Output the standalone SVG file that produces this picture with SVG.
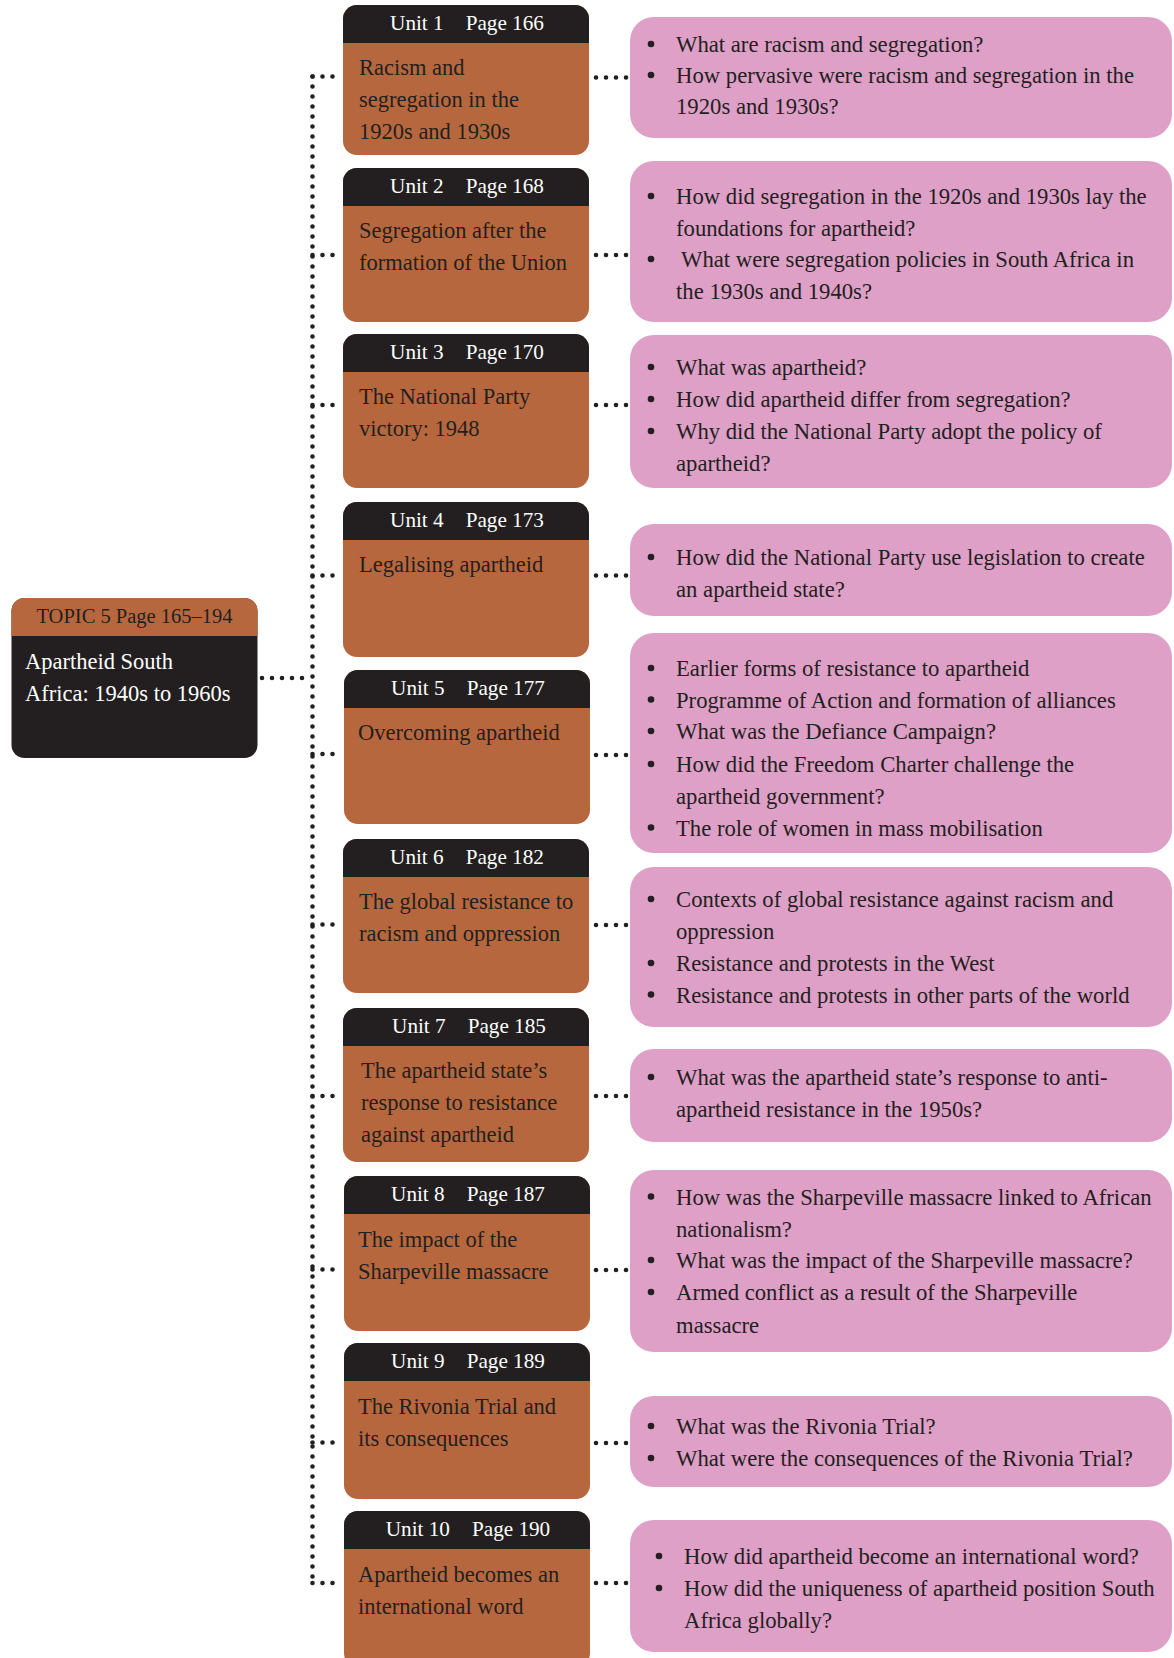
<svg xmlns="http://www.w3.org/2000/svg" width="1174" height="1658" viewBox="0 0 1174 1658">
<style>
text{font-family:"Liberation Serif","Times New Roman",serif}
.hdr{font-size:21.2px;fill:#ffffff;text-anchor:middle}
.thdr{font-size:20.5px;fill:#231f20;text-anchor:middle}
.tb{font-size:22.5px;fill:#ffffff}
.ub{font-size:22.5px;fill:#231f20}
.pt{font-size:22.7px;fill:#231f20}
.or{fill:#b7673d}
.dk{fill:#231f20}
.pk{fill:#dea0c7}
.dot{stroke:#231f20;stroke-width:4.6;stroke-linecap:round;stroke-dasharray:0 10;fill:none}
.bl{fill:#231f20}
</style>

<g id="connectors">
<path class="dot" d="M312.5,76.5 V1583"/>
<path class="dot" d="M262,678 H312"/>
<path class="dot" d="M312.5,76.5 H342"/><path class="dot" d="M596,77.5 H627"/>
<path class="dot" d="M312.5,255 H342"/><path class="dot" d="M596,255 H627"/>
<path class="dot" d="M312.5,405 H342"/><path class="dot" d="M596,405 H627"/>
<path class="dot" d="M312.5,575.5 H342"/><path class="dot" d="M596,575.5 H627"/>
<path class="dot" d="M312.5,754 H342"/><path class="dot" d="M596,755 H627"/>
<path class="dot" d="M312.5,924.5 H342"/><path class="dot" d="M596,925 H627"/>
<path class="dot" d="M312.5,1096 H342"/><path class="dot" d="M596,1096 H627"/>
<path class="dot" d="M312.5,1269.5 H342"/><path class="dot" d="M596,1270 H627"/>
<path class="dot" d="M312.5,1442.5 H342"/><path class="dot" d="M596,1443 H627"/>
<path class="dot" d="M312.5,1583 H342"/><path class="dot" d="M596,1583 H627"/>
</g>

<g id="topic">
<rect class="dk" x="11.5" y="598" width="246" height="160" rx="13"/>
<path class="or" d="M11.5,636 V611 a13,13 0 0 1 13,-13 H244.5 a13,13 0 0 1 13,13 V636 Z"/>
<text class="thdr" x="134.5" y="623">TOPIC 5 Page 165–194</text>
<text class="tb" x="25" y="669">Apartheid South</text>
<text class="tb" x="25" y="701">Africa: 1940s to 1960s</text>
</g>

<g id="unit1">
<rect class="or" x="343" y="5" width="246" height="150" rx="14"/>
<path class="dk" d="M343,43 V19 a14,14 0 0 1 14,-14 H575 a14,14 0 0 1 14,14 V43 Z"/>
<text class="hdr" x="467" y="30">Unit 1<tspan dx="22">Page 166</tspan></text>
<text class="ub" x="359" y="75">Racism and</text>
<text class="ub" x="359" y="107">segregation in the</text>
<text class="ub" x="359" y="139">1920s and 1930s</text>
</g>

<g id="unit2">
<rect class="or" x="343" y="168" width="246" height="154" rx="14"/>
<path class="dk" d="M343,206 V182 a14,14 0 0 1 14,-14 H575 a14,14 0 0 1 14,14 V206 Z"/>
<text class="hdr" x="467" y="193">Unit 2<tspan dx="22">Page 168</tspan></text>
<text class="ub" x="359" y="238">Segregation after the</text>
<text class="ub" x="359" y="270">formation of the Union</text>
</g>

<g id="unit3">
<rect class="or" x="343" y="334" width="246" height="154" rx="14"/>
<path class="dk" d="M343,372 V348 a14,14 0 0 1 14,-14 H575 a14,14 0 0 1 14,14 V372 Z"/>
<text class="hdr" x="467" y="359">Unit 3<tspan dx="22">Page 170</tspan></text>
<text class="ub" x="359" y="404">The National Party</text>
<text class="ub" x="359" y="436">victory: 1948</text>
</g>

<g id="unit4">
<rect class="or" x="343" y="502" width="246" height="155" rx="14"/>
<path class="dk" d="M343,540 V516 a14,14 0 0 1 14,-14 H575 a14,14 0 0 1 14,14 V540 Z"/>
<text class="hdr" x="467" y="527">Unit 4<tspan dx="22">Page 173</tspan></text>
<text class="ub" x="359" y="572">Legalising apartheid</text>
</g>

<g id="unit5">
<rect class="or" x="344" y="670" width="246" height="154" rx="14"/>
<path class="dk" d="M344,708 V684 a14,14 0 0 1 14,-14 H576 a14,14 0 0 1 14,14 V708 Z"/>
<text class="hdr" x="468" y="695">Unit 5<tspan dx="22">Page 177</tspan></text>
<text class="ub" x="358" y="740">Overcoming apartheid</text>
</g>

<g id="unit6">
<rect class="or" x="343" y="839" width="246" height="154" rx="14"/>
<path class="dk" d="M343,877 V853 a14,14 0 0 1 14,-14 H575 a14,14 0 0 1 14,14 V877 Z"/>
<text class="hdr" x="467" y="864">Unit 6<tspan dx="22">Page 182</tspan></text>
<text class="ub" x="359" y="909">The global resistance to</text>
<text class="ub" x="359" y="941">racism and oppression</text>
</g>

<g id="unit7">
<rect class="or" x="343" y="1008" width="246" height="154" rx="14"/>
<path class="dk" d="M343,1046 V1022 a14,14 0 0 1 14,-14 H575 a14,14 0 0 1 14,14 V1046 Z"/>
<text class="hdr" x="469" y="1033">Unit 7<tspan dx="22">Page 185</tspan></text>
<text class="ub" x="361" y="1078">The apartheid state’s</text>
<text class="ub" x="361" y="1110">response to resistance</text>
<text class="ub" x="361" y="1142">against apartheid</text>
</g>

<g id="unit8">
<rect class="or" x="344" y="1176" width="246" height="155" rx="14"/>
<path class="dk" d="M344,1214 V1190 a14,14 0 0 1 14,-14 H576 a14,14 0 0 1 14,14 V1214 Z"/>
<text class="hdr" x="468" y="1201">Unit 8<tspan dx="22">Page 187</tspan></text>
<text class="ub" x="358" y="1247">The impact of the</text>
<text class="ub" x="358" y="1279">Sharpeville massacre</text>
</g>

<g id="unit9">
<rect class="or" x="344" y="1343" width="246" height="156" rx="14"/>
<path class="dk" d="M344,1381 V1357 a14,14 0 0 1 14,-14 H576 a14,14 0 0 1 14,14 V1381 Z"/>
<text class="hdr" x="468" y="1368">Unit 9<tspan dx="22">Page 189</tspan></text>
<text class="ub" x="358" y="1414">The Rivonia Trial and</text>
<text class="ub" x="358" y="1446">its consequences</text>
</g>

<g id="unit10">
<rect class="or" x="344" y="1511" width="246" height="156" rx="14"/>
<path class="dk" d="M344,1549 V1525 a14,14 0 0 1 14,-14 H576 a14,14 0 0 1 14,14 V1549 Z"/>
<text class="hdr" x="468" y="1536">Unit 10<tspan dx="22">Page 190</tspan></text>
<text class="ub" x="358" y="1582">Apartheid becomes an</text>
<text class="ub" x="358" y="1614">international word</text>
</g>

<g id="q1">
<rect class="pk" x="630" y="17" width="542" height="121" rx="24"/>
<circle class="bl" cx="651" cy="44" r="3.3"/><text class="pt" x="676" y="52">What are racism and segregation?</text>
<circle class="bl" cx="651" cy="75" r="3.3"/><text class="pt" x="676" y="83">How pervasive were racism and segregation in the</text>
<text class="pt" x="676" y="114">1920s and 1930s?</text>
</g>

<g id="q2">
<rect class="pk" x="630" y="161" width="542" height="161" rx="24"/>
<circle class="bl" cx="651" cy="196" r="3.3"/><text class="pt" x="676" y="204">How did segregation in the 1920s and 1930s lay the</text>
<text class="pt" x="676" y="236">foundations for apartheid?</text>
<circle class="bl" cx="651" cy="259" r="3.3"/><text class="pt" x="681" y="267">What were segregation policies in South Africa in</text>
<text class="pt" x="676" y="299">the 1930s and 1940s?</text>
</g>

<g id="q3">
<rect class="pk" x="630" y="335" width="542" height="153" rx="24"/>
<circle class="bl" cx="651" cy="367" r="3.3"/><text class="pt" x="676" y="375">What was apartheid?</text>
<circle class="bl" cx="651" cy="399" r="3.3"/><text class="pt" x="676" y="407">How did apartheid differ from segregation?</text>
<circle class="bl" cx="651" cy="431" r="3.3"/><text class="pt" x="676" y="439">Why did the National Party adopt the policy of</text>
<text class="pt" x="676" y="470.5">apartheid?</text>
</g>

<g id="q4">
<rect class="pk" x="630" y="524" width="542" height="92" rx="24"/>
<circle class="bl" cx="651" cy="557" r="3.3"/><text class="pt" x="676" y="565">How did the National Party use legislation to create</text>
<text class="pt" x="676" y="596.5">an apartheid state?</text>
</g>

<g id="q5">
<rect class="pk" x="630" y="633" width="542" height="220" rx="24"/>
<circle class="bl" cx="651" cy="668" r="3.3"/><text class="pt" x="676" y="676">Earlier forms of resistance to apartheid</text>
<circle class="bl" cx="651" cy="699.5" r="3.3"/><text class="pt" x="676" y="707.5">Programme of Action and formation of alliances</text>
<circle class="bl" cx="651" cy="731" r="3.3"/><text class="pt" x="676" y="739">What was the Defiance Campaign?</text>
<circle class="bl" cx="651" cy="764" r="3.3"/><text class="pt" x="676" y="772">How did the Freedom Charter challenge the</text>
<text class="pt" x="676" y="803.5">apartheid government?</text>
<circle class="bl" cx="651" cy="827.5" r="3.3"/><text class="pt" x="676" y="835.5">The role of women in mass mobilisation</text>
</g>

<g id="q6">
<rect class="pk" x="630" y="867" width="542" height="160" rx="24"/>
<circle class="bl" cx="651" cy="899" r="3.3"/><text class="pt" x="676" y="907">Contexts of global resistance against racism and</text>
<text class="pt" x="676" y="939">oppression</text>
<circle class="bl" cx="651" cy="963" r="3.3"/><text class="pt" x="676" y="971">Resistance and protests in the West</text>
<circle class="bl" cx="651" cy="994.5" r="3.3"/><text class="pt" x="676" y="1002.5">Resistance and protests in other parts of the world</text>
</g>

<g id="q7">
<rect class="pk" x="630" y="1049" width="542" height="93" rx="24"/>
<circle class="bl" cx="651" cy="1077" r="3.3"/><text class="pt" x="676" y="1085">What was the apartheid state’s response to anti-</text>
<text class="pt" x="676" y="1117">apartheid resistance in the 1950s?</text>
</g>

<g id="q8">
<rect class="pk" x="630" y="1170" width="542" height="182" rx="24"/>
<circle class="bl" cx="651" cy="1196.5" r="3.3"/><text class="pt" x="676" y="1204.5">How was the Sharpeville massacre linked to African</text>
<text class="pt" x="676" y="1236.5">nationalism?</text>
<circle class="bl" cx="651" cy="1260" r="3.3"/><text class="pt" x="676" y="1268">What was the impact of the Sharpeville massacre?</text>
<circle class="bl" cx="651" cy="1292" r="3.3"/><text class="pt" x="676" y="1300">Armed conflict as a result of the Sharpeville</text>
<text class="pt" x="676" y="1332.5">massacre</text>
</g>

<g id="q9">
<rect class="pk" x="630" y="1396" width="542" height="91" rx="24"/>
<circle class="bl" cx="651" cy="1426" r="3.3"/><text class="pt" x="676" y="1434">What was the Rivonia Trial?</text>
<circle class="bl" cx="651" cy="1458" r="3.3"/><text class="pt" x="676" y="1466">What were the consequences of the Rivonia Trial?</text>
</g>

<g id="q10">
<rect class="pk" x="630" y="1520" width="542" height="132" rx="24"/>
<circle class="bl" cx="659" cy="1556" r="3.3"/><text class="pt" x="684" y="1564">How did apartheid become an international word?</text>
<circle class="bl" cx="659" cy="1588" r="3.3"/><text class="pt" x="684" y="1596">How did the uniqueness of apartheid position South</text>
<text class="pt" x="684" y="1627.5">Africa globally?</text>
</g>
</svg>
